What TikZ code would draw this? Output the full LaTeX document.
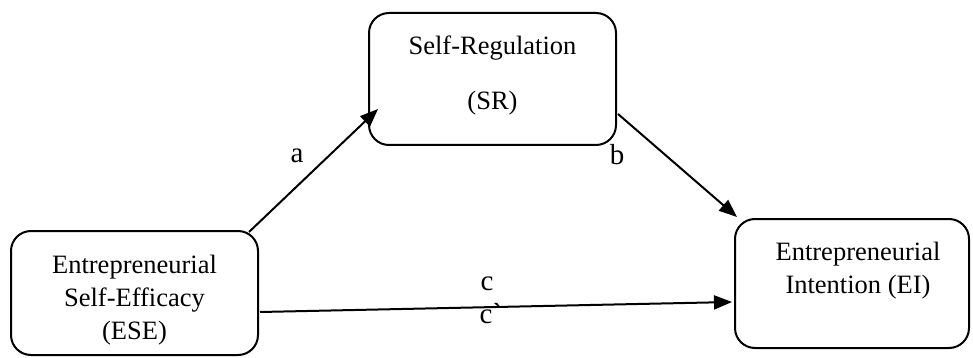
\documentclass[tikz,border=0pt]{standalone}
\usepackage{fontspec}
\setmainfont{Liberation Serif}
\usetikzlibrary{arrows.meta,calc}
\begin{document}
\begin{tikzpicture}[x=1pt,y=-1pt,
  box/.style={draw,line width=2pt,rounded corners=20pt,inner sep=0pt},
  txt/.style={align=center,inner sep=0pt,font=\fontsize{26.5}{33}\selectfont},
  lbl/.style={inner sep=0pt,font=\fontsize{29}{33}\selectfont},
  conn/.style={line width=2pt,-{Triangle[length=18pt,width=14pt]}}]
\useasboundingbox (0,0) rectangle (973,358);

% the three variables
\node[box,minimum width=247pt,minimum height=124pt] (ese) at (134.5,293) {};
\node[box,minimum width=247pt,minimum height=132pt] (sr)  at (492.5,79) {};
\node[box,minimum width=234pt,minimum height=129pt] (ei)  at (852,283.5) {};

\node[txt] (eseText) at (134.5,300) {Entrepreneurial\\Self-Efficacy\\(ESE)};
\node[txt] (srText)  at (492.5,75.5) {Self-Regulation\\[22pt](SR)};
\node[txt] (eiText)  at (858,271) {Entrepreneurial\\Intention (EI)};

% paths of the mediation model
\draw[conn] ($(ese.north east)+(-10,2)$) -- ($(sr.south west)+(10,-37)$);
\draw[conn] ($(sr.south east)+(1,-32)$) -- ($(ei.north west)+(3,-1)$);
\draw[conn] ($(ese.east)+(1,19)$) -- ($(ei.west)+(-2,18.5)$);

% path labels
\node[lbl] (la)  at (297,156) {a};
\node[lbl] (lb)  at (617,155) {b};
\node[lbl] (lc)  at (487,284) {c};
\node[lbl] (lc2) at (491,314) {c\textasciigrave};
\end{tikzpicture}
\end{document}
